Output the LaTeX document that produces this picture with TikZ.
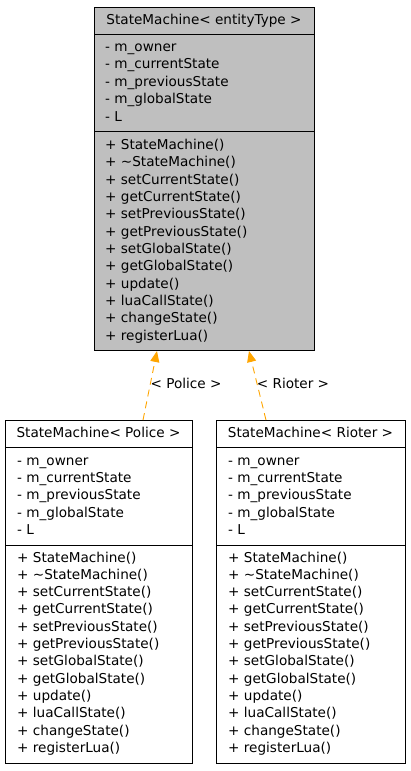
\documentclass[tikz,border=0pt]{standalone}
\usepackage{fontspec}
\setmainfont{DejaVu Sans}
\usetikzlibrary{arrows.meta}
\definecolor{boxgrey}{HTML}{BFBFBF}
\definecolor{inhorange}{HTML}{FFA500}
\tikzset{
  cls/.style={draw=black, line width=1pt, fill=#1, inner sep=0pt, anchor=north west},
  sep/.style={draw=black, line width=1pt},
  txt/.style={anchor=west, inner sep=0pt, text height=10pt, text depth=3pt, font=\fontsize{13.6}{16}\selectfont},
  ttl/.style={anchor=center, inner sep=0pt, text height=10pt, text depth=3pt, font=\fontsize{13.6}{16}\selectfont},
  inh/.style={draw=inhorange, line width=0.9pt, dash pattern=on 7pt off 5pt,
    -{Triangle[width=9pt,length=11pt,fill=inhorange]}},
}
\begin{document}
\begin{tikzpicture}[x=1pt,y=-1pt]
\useasboundingbox (0,0) rectangle (411,771);
% top class
\node[cls=boxgrey, minimum width=220pt, minimum height=343pt] (top) at (94,7) {};
\draw[sep] (top.west |- 0,34) -- (top.east |- 0,34);
\draw[sep] (top.west |- 0,131.5) -- (top.east |- 0,131.5);
\node[ttl] (ttop) at (204,21) {StateMachine< entityType >};
% police
\node[cls=white, minimum width=187pt, minimum height=343pt] (police) at (5,420) {};
\draw[sep] (police.west |- 0,447.5) -- (police.east |- 0,447.5);
\draw[sep] (police.west |- 0,545) -- (police.east |- 0,545);
\node[ttl] (tpolice) at (98.5,434) {StateMachine< Police >};
% rioter
\node[cls=white, minimum width=189pt, minimum height=343pt] (rioter) at (216,420) {};
\draw[sep] (rioter.west |- 0,447.5) -- (rioter.east |- 0,447.5);
\draw[sep] (rioter.west |- 0,545) -- (rioter.east |- 0,545);
\node[ttl] (trioter) at (310.5,434) {StateMachine< Rioter >};
% attributes
\foreach \bx/\xx/\yy in {a/105/48, b/17/461.5, c/228/461.5}{
  \foreach \t [count=\i from 0] in {- m\_owner, - m\_currentState, - m\_previousState, - m\_globalState, - L}{
    \node[txt] (attr\bx\i) at (\xx,\yy+17.4*\i) {\t};
  }
}
% methods
\foreach \bx/\xx/\yy in {a/105/146, b/17/558.5, c/228/558.5}{
  \foreach \t [count=\i from 0] in {+ StateMachine(), + \textasciitilde StateMachine(), + setCurrentState(), + getCurrentState(), + setPreviousState(), + getPreviousState(), + setGlobalState(), + getGlobalState(), + update(), + luaCallState(), + changeState(), + registerLua()}{
    \node[txt] (meth\bx\i) at (\xx,\yy+17.33*\i) {\t};
  }
}
% inheritance
\coordinate (pfrom) at ([xshift=138pt]police.north west);
\coordinate (pto) at ([xshift=63pt]top.south west);
\coordinate (rfrom) at ([xshift=50pt]rioter.north west);
\coordinate (rto) at ([xshift=155pt]top.south west);
\draw[inh] (pfrom) -- (pto);
\draw[inh] (rfrom) -- (rto);
\node[ttl] (lpolice) at (186,385) {< Police >};
\node[ttl] (lrioter) at (293,385) {< Rioter >};
\end{tikzpicture}
\end{document}
